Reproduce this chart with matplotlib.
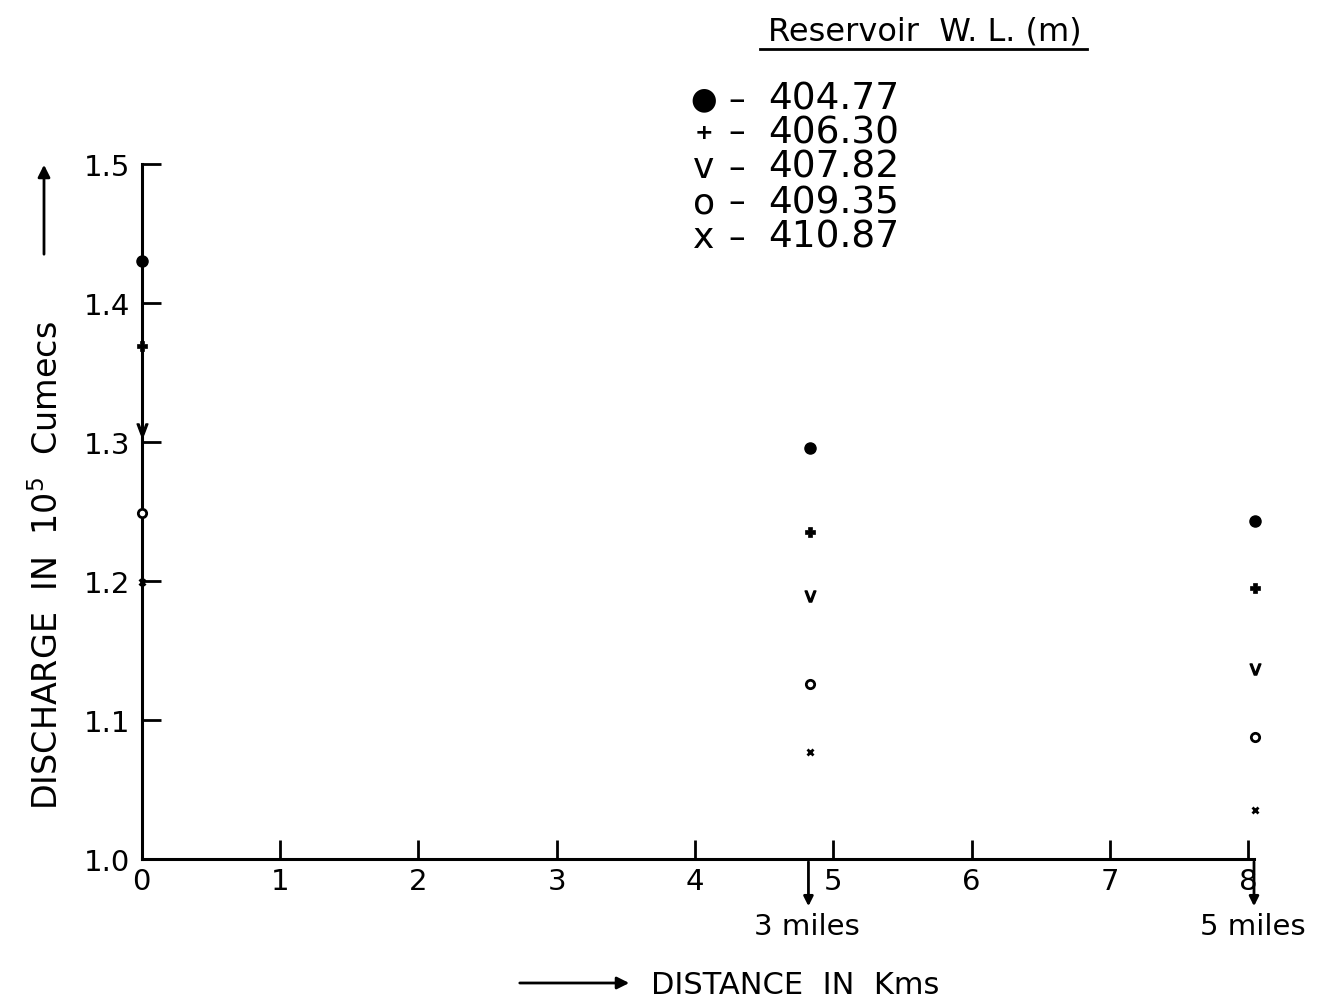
import matplotlib
matplotlib.use("Agg")
import matplotlib.pyplot as plt
from matplotlib.transforms import blended_transform_factory

plt.rcParams['font.family'] = ['DejaVu Sans']

# ---- data ----
distance_km = [0.0, 4.83, 8.05]
levels = ['404.77', '406.30', '407.82', '409.35', '410.87']
q_40477 = [1.430, 1.296, 1.243]
q_40630 = [1.369, 1.235, 1.195]
q_40782 = [1.309, 1.189, 1.137]
q_40935 = [1.249, 1.126, 1.088]
q_41087 = [1.199, 1.077, 1.035]
series = [q_40477, q_40630, q_40782, q_40935, q_41087]
x_ticks = [0, 1, 2, 3, 4, 5, 6, 7, 8]
y_ticks = [1.0, 1.1, 1.2, 1.3, 1.4, 1.5]
y_ticklabels = ['1.0', '1.1', '1.2', '1.3', '1.4', '1.5']
mile_marks = [4.83, 8.05]
mile_labels = ['3 miles', '5 miles']

W, H = 1319, 1003
fig = plt.figure(figsize=(W / 100, H / 100), dpi=100)
ax = fig.add_axes([141.5 / W, 1 - 860 / H, (1254 - 141.5) / W, (860 - 165) / H])
ax.set_xlim(0, 8.04)
ax.set_ylim(1.0, 1.5)

for s in ['top', 'right']:
    ax.spines[s].set_visible(False)
for s in ['left', 'bottom']:
    ax.spines[s].set_linewidth(2.2)
    ax.spines[s].set_color('black')

ax.set_xticks(x_ticks)
ax.set_xticklabels([str(t) for t in x_ticks])
ax.set_yticks(y_ticks)
ax.set_yticklabels(y_ticklabels)
ax.tick_params(axis='both', direction='in', length=14, width=2, labelsize=21, colors='black')
ax.tick_params(axis='x', pad=6)
ax.tick_params(axis='y', pad=8)
ax.yaxis.get_major_ticks()[0].tick1line.set_visible(False)
ax.xaxis.get_major_ticks()[0].tick1line.set_visible(False)

styles = [
    dict(marker='o', ms=8, mfc='black', mec='black'),
    dict(marker='P', ms=7, mfc='black', mec='black', mew=0.5),
    dict(marker='$\\mathrm{v}$', ms=8, mfc='black', mec='black'),
    dict(marker='o', ms=6, mfc='white', mec='black', mew=2),
    dict(marker='x', ms=5, mec='black', mew=2),
]
for ys, st in zip(series, styles):
    ax.plot(distance_km, ys, linestyle='none', clip_on=False, zorder=5, **st)

# mile arrows under axis
trans = blended_transform_factory(ax.transData, ax.transAxes)
for xm, lab in zip(mile_marks, mile_labels):
    ax.annotate('', xy=(xm - 0.01, 0), xycoords=trans, xytext=(0, -36), textcoords='offset points',
                arrowprops=dict(arrowstyle='<|-', color='black', lw=2, mutation_scale=14),
                annotation_clip=False)
    ax.annotate(lab, xy=(xm - 0.02, 0), xycoords=trans, xytext=(0, -48), textcoords='offset points',
                ha='center', va='center', fontsize=21, annotation_clip=False)

def fx(px):
    return px / W

def fy(py):
    return 1 - py / H

# y label with arrow
fig.text(fx(48), fy(566), 'DISCHARGE  IN  10$^5$  Cumecs', rotation=90, ha='center', va='center', fontsize=24)
fig.add_artist(matplotlib.patches.FancyArrowPatch((fx(44), fy(258)), (fx(44), fy(163)),
               transform=fig.transFigure, arrowstyle='-|>', mutation_scale=18, lw=2, color='black'))

# x label with arrow
fig.text(fx(795), fy(985), 'DISTANCE  IN  Kms', ha='center', va='center', fontsize=22)
fig.add_artist(matplotlib.patches.FancyArrowPatch((fx(517), fy(984)), (fx(632), fy(984)),
               transform=fig.transFigure, arrowstyle='-|>', mutation_scale=18, lw=2, color='black'))

# legend block
fig.text(fx(925), fy(32), 'Reservoir  W. L. (m)', ha='center', va='center', fontsize=23)
fig.add_artist(matplotlib.lines.Line2D([fx(760), fx(1087)], [fy(50), fy(50)], transform=fig.transFigure,
                                       color='black', lw=2))
legend_syms = ['\u25cf', '+', 'v', 'o', 'x']
legend_sizes = [22, 16, 26, 26, 26]
row_y = [100, 133, 168, 203, 238]
for sym, sz, lev, yy in zip(legend_syms, legend_sizes, levels, row_y):
    fig.text(fx(704), fy(yy), sym, ha='center', va='center', fontsize=sz, fontweight='bold' if sym == '+' else 'normal')
    fig.text(fx(737), fy(yy), '\u2013', ha='center', va='center', fontsize=24)
    fig.text(fx(768), fy(yy), lev, ha='left', va='center', fontsize=27)

fig.savefig('out.png', dpi=100)
